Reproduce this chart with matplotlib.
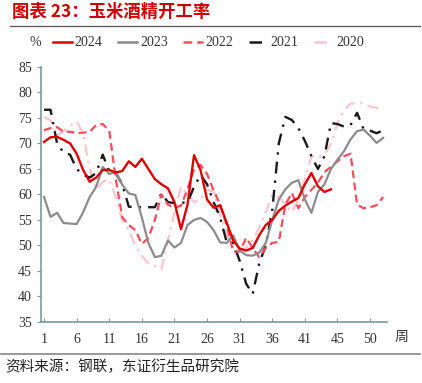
import matplotlib
matplotlib.use("Agg")
import matplotlib.pyplot as plt
from matplotlib.lines import Line2D

plt.rcParams['font.family'] = ['Liberation Serif', 'Noto Sans CJK SC']

# 周次
weeks = list(range(1, 54))

# 开工率 %
y2024 = [70.3, 71.2, 71.3, 70.7, 70.0, 68.0, 64.8, 62.5, 63.3, 64.8,
         64.8, 64.3, 64.6, 66.5, 65.4, 67.0, 65.0, 63.0, 62.0, 61.2,
         58.5, 53.2, 58.0, 67.7, 64.8, 59.0, 57.4, 57.9, 54.5, 51.0,
         49.4, 49.0, 49.5, 52.0, 54.0, 55.0, 56.8, 57.8, 58.6, 59.3,
         62.0, 64.2, 61.6, 60.5, 61.0]
y2023 = [59.5, 55.6, 56.4, 54.4, 54.3, 54.2, 56.5, 59.5, 61.5, 65.4,
         64.0, 64.4, 61.9, 60.2, 59.9, 55.5, 50.5, 47.7, 48.0, 51.0,
         49.6, 50.5, 54.0, 55.0, 55.4, 54.6, 53.0, 50.6, 50.5, 52.0,
         49.0, 48.1, 48.0, 48.6, 50.5, 55.0, 59.0, 61.0, 62.3, 62.8,
         59.0, 56.4, 60.5, 62.0, 65.0, 66.8, 68.5, 70.8, 72.4, 72.7,
         71.5, 70.1, 71.1]
y2022 = [72.6, 73.0, 73.2, 72.3, 72.3, 72.0, 72.1, 72.3, 73.6, 73.8,
         72.5, 63.0, 55.5, 54.0, 53.0, 50.3, 51.5, 55.0, 60.0, 58.0,
         57.4, 57.8, 61.0, 65.0, 65.8, 64.0, 60.8, 58.0, 54.0, 48.8,
         48.8, 51.5, 49.5, 47.7, 49.5, 50.5, 50.7, 58.0, 60.3, 57.3,
         59.5, 60.9, 62.3, 64.4, 65.4, 66.5, 67.5, 68.0, 58.0, 57.3,
         57.5, 57.9, 59.5]
y2021 = [76.6, 76.6, 70.0, 68.2, 67.8, 65.0, 63.9, 63.3, 64.2, 67.8,
         64.5, 64.2, 62.0, 57.6, 57.5, 57.5, 57.5, 57.5, 60.2, 58.5,
         58.3, 58.4, 58.4, 61.5, 63.8, 62.0, 58.5, 55.5, 50.7, 50.5,
         47.0, 42.5, 40.5, 46.5, 50.0, 57.0, 70.0, 75.2, 74.6, 73.0,
         70.5, 67.5, 65.0, 67.5, 74.0, 73.8, 73.3, 73.6, 76.0, 72.8,
         72.5, 72.0, 72.6]
y2020 = [75.2, 74.5, 71.5, 72.5, 73.5, 74.3, 72.0, 65.0, 61.0, 62.5,
         63.0, 59.5, 55.0, 53.0, 50.0, 48.0, 46.5, 46.0, 45.3, 51.0,
         56.5, 61.5, 60.0, 58.5, 59.0, 61.0, 60.5, 56.0, 52.0, 50.0,
         49.0, 49.5, 51.0, 53.5, 56.5, 60.0, 59.5, 58.0, 56.5, 59.0,
         63.0, 67.5, 67.3, 67.8, 70.0, 74.0, 76.5, 77.8, 77.9, 77.9,
         77.2, 77.0, 77.0]

xtick_pos = [1, 6, 11, 16, 21, 26, 31, 36, 41, 46, 51]
xtick_labels = ['1', '6', '11', '16', '21', '26', '31', '36', '41', '45', '50']
yticks = [35, 40, 45, 50, 55, 60, 65, 70, 75, 80, 85]

fig = plt.figure(figsize=(4.22, 3.83), dpi=100)
ax = fig.add_axes([0.0972, 0.1593, 0.820, 0.666])

c24, c23, c22, c21, c20 = '#E00000', '#8C8C8C', '#FF4B5C', '#1A1A1A', '#FFC4CC'
ax.plot(weeks, y2020, color=c20, lw=1.6, ls=(0, (5, 2.5, 1, 2.5)))
ax.plot(weeks, y2021, color=c21, lw=1.7, ls=(0, (5, 3, 1, 3)))
ax.plot(weeks, y2022, color=c22, lw=1.6, ls=(0, (3.5, 2)))
ax.plot(weeks, y2023, color=c23, lw=1.6)
ax.plot(weeks[:len(y2024)], y2024, color=c24, lw=1.7)

ax.set_xlim(0.54, 53.6)
ax.set_ylim(35, 85)
ax.set_xticks(xtick_pos)
ax.set_xticklabels(xtick_labels)
ax.set_yticks(yticks)
ax.tick_params(axis='x', direction='in', length=3, color='#7F9A9A', labelsize=10,
               pad=8, labelcolor='#333333')
ax.tick_params(axis='y', direction='out', length=3, color='#7F9A9A', labelsize=10,
               labelcolor='#333333')
for s in ['top', 'right']:
    ax.spines[s].set_visible(False)
for s in ['left', 'bottom']:
    ax.spines[s].set_color('#7F9A9A')
    ax.spines[s].set_linewidth(1.2)

fig.text(395 / 422, 1 - 337 / 383, '周', fontsize=10, color='#333333',
         family=['Noto Sans CJK SC'], va='center')

# 图例
handles = [Line2D([], [], color=c24, lw=1.8),
           Line2D([], [], color=c23, lw=1.8),
           Line2D([], [], color=c22, lw=1.8, ls=(0, (3.5, 2))),
           Line2D([], [], color=c21, lw=1.8, ls=(0, (5, 3, 1, 3))),
           Line2D([], [], color=c20, lw=1.8, ls=(0, (5, 3, 1, 3)))]
fig.legend(handles, ['2024', '2023', '2022', '2021', '2020'], loc='center left',
           bbox_to_anchor=(40 / 422, 1 - 43 / 383), ncol=5, frameon=False,
           fontsize=10, handlelength=1.4, handletextpad=0.2, columnspacing=1.1,
           labelcolor='#333333')
fig.text(29 / 422, 1 - 43 / 383, '%', fontsize=10, color='#333333', va='center')

# 标题和来源
fig.text(12 / 422, 1 - 12 / 383, '图表 23：玉米酒精开工率', fontsize=12.5,
         color='#D00000', fontweight='bold', va='center',
         family=['Noto Sans CJK SC'])
fig.add_artist(Line2D([10 / 422, 420 / 422], [1 - 26 / 383, 1 - 26 / 383],
                      color='#555555', lw=0.9))
fig.add_artist(Line2D([0, 420 / 422], [1 - 354 / 383, 1 - 354 / 383],
                      color='#888888', lw=1.2))
fig.text(5 / 422, 1 - 367 / 383, '资料来源：钢联，东证衍生品研究院', fontsize=10.5,
         color='#222222', va='center', family=['Noto Sans CJK SC'])

fig.savefig('out.png', dpi=100)
